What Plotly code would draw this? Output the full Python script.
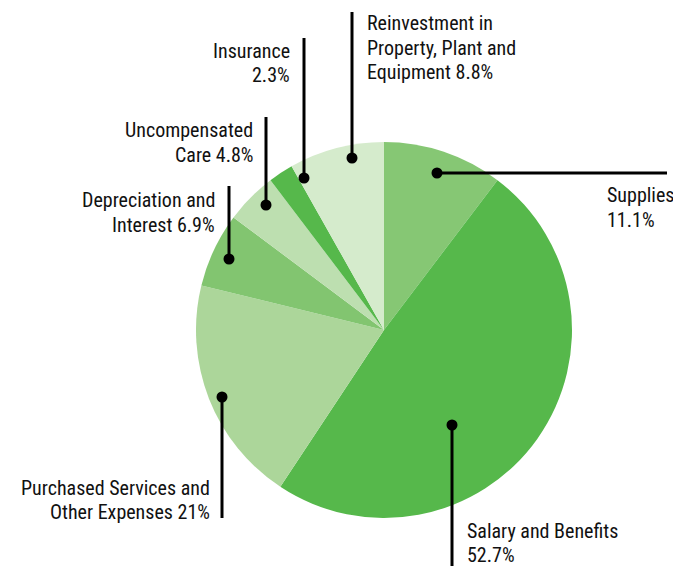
import plotly.graph_objects as go

# ---- data ----
categories = [
    "Supplies",
    "Salary and Benefits",
    "Purchased Services and Other Expenses",
    "Depreciation and Interest",
    "Uncompensated Care",
    "Insurance",
    "Reinvestment in Property, Plant and Equipment",
]
values = [11.1, 52.7, 21, 6.9, 4.8, 2.3, 8.8]
label_lines = [
    ["Supplies", "11.1%"],
    ["Salary and Benefits", "52.7%"],
    ["Purchased Services and", "Other Expenses 21%"],
    ["Depreciation and", "Interest 6.9%"],
    ["Uncompensated", "Care 4.8%"],
    ["Insurance", "2.3%"],
    ["Reinvestment in", "Property, Plant and", "Equipment 8.8%"],
]
colors = ["#86c774", "#56b84b", "#acd69a", "#82c570", "#bddfb0", "#56b84b", "#d5ebcc"]

W, H = 673, 566
FONT = "Liberation Sans Narrow, Roboto Condensed, DejaVu Sans Condensed, Arial Narrow, sans-serif"
FS = 20
LINE_GAP = 24.4

# layout geometry (pixels from top-left)
cx, cy, R = 384, 330, 188
# leader: (dot x, dot y, end x, end y)
leaders = [
    (437, 173, 667, 173),
    (452, 425, 452, 566),
    (222, 397, 222, 518),
    (229, 259, 229, 186),
    (266, 205, 266, 117),
    (304, 178, 304, 38),
    (352, 158, 352, 12),
]
# label anchor: (x, y of first line cap-centre, xanchor)
label_pos = [
    (606, 193.7, "left"),
    (466, 529.0, "left"),
    (211, 486.5, "right"),
    (216, 198.8, "right"),
    (254, 128.8, "right"),
    (291, 49.3, "right"),
    (366, 21.7, "left"),
]


def px(x):
    return x / W


def py(y):
    return 1 - y / H


fig = go.Figure()
fig.add_trace(go.Pie(
    labels=categories, values=values, sort=False, direction="clockwise",
    rotation=0, marker=dict(colors=colors, line=dict(width=0)),
    textinfo="none", hoverinfo="label+percent", showlegend=False,
    domain=dict(x=[px(cx - R), px(cx + R)], y=[py(cy + R), py(cy - R)]),
))

shapes = []
dot_r = 5.5
for (x0, y0, x1, y1) in leaders:
    shapes.append(dict(type="line", xref="paper", yref="paper", layer="above",
                       x0=px(x0), y0=py(y0), x1=px(x1), y1=py(y1),
                       line=dict(color="#000", width=3)))
    shapes.append(dict(type="circle", xref="paper", yref="paper", layer="above",
                       x0=px(x0 - dot_r), x1=px(x0 + dot_r), y0=py(y0 + dot_r), y1=py(y0 - dot_r),
                       fillcolor="#000", line=dict(width=0)))

annotations = []
CAP_OFFSET = 1.5  # box middle sits slightly below cap centre
for lines, (x, y, xa) in zip(label_lines, label_pos):
    for i, t in enumerate(lines):
        annotations.append(dict(
            x=px(x), y=py(y + i * LINE_GAP + CAP_OFFSET), xref="paper", yref="paper",
            text=t, showarrow=False, xanchor=xa, yanchor="middle", align=xa,
            borderpad=0, font=dict(family=FONT, size=FS, color="#111")))

fig.update_layout(
    width=W, height=H, margin=dict(l=0, r=0, t=0, b=0, pad=0),
    paper_bgcolor="white", plot_bgcolor="white",
    shapes=shapes, annotations=annotations,
)
fig.write_html("out.html", config={"displayModeBar": False},
               post_script="document.body.style.margin='0';document.body.style.padding='0';")
